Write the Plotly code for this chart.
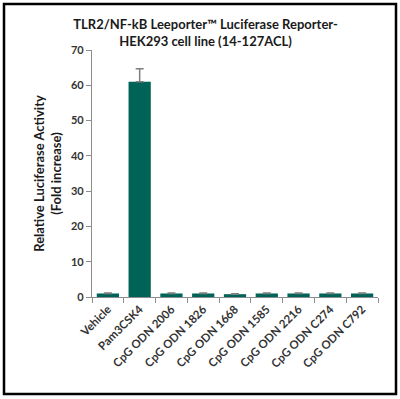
import plotly.graph_objects as go

categories = ["Vehicle", "Pam3CSK4", "CpG ODN 2006", "CpG ODN 1826", "CpG ODN 1668",
              "CpG ODN 1585", "CpG ODN 2216", "CpG ODN C274", "CpG ODN C792"]
values = [1.0, 61.0, 1.0, 1.0, 0.8, 1.0, 1.0, 1.0, 1.0]
errors = [0.1, 3.7, 0.1, 0.1, 0.1, 0.1, 0.1, 0.1, 0.1]
y_ticks = [0, 10, 20, 30, 40, 50, 60, 70]

W, H = 400, 399
ml, mr, mt, mb = 92, 22, 50, 102
pw, ph = W - ml - mr, H - mt - mb

font_fam = "Lato, 'Open Sans', sans-serif"

fig = go.Figure(go.Bar(
    x=categories, y=values,
    marker=dict(color="#006358", line=dict(width=0)),
    error_y=dict(type="data", array=errors, arrayminus=[0] * len(errors), symmetric=False,
                 visible=True, color="#7f7f7f", thickness=1.5, width=4),
    width=0.7,
))

def px_x(p):
    return (p - ml) / pw

def px_y(p):
    return (H - mb - p) / ph

fig.update_layout(
    width=W, height=H,
    margin=dict(l=ml, r=mr, t=mt, b=mb),
    paper_bgcolor="white", plot_bgcolor="white",
    showlegend=False,
    title=dict(
        text="<b>TLR2/NF-kB Leeporter™ Luciferase Reporter-<br>HEK293 cell line (14-127ACL)</b>",
        x=px_x(239), xanchor="center", y=1 - 29 / H, yanchor="middle",
        font=dict(family=font_fam, size=13, color="#1a1a1a"),
    ),
    font=dict(family=font_fam),
    shapes=[dict(type="rect", xref="paper", yref="paper",
                 x0=px_x(4), x1=px_x(396), y0=px_y(394), y1=px_y(4),
                 line=dict(color="black", width=2.5), fillcolor="rgba(0,0,0,0)")],
)

fig.update_yaxes(
    range=[0, 70], tickvals=y_ticks,
    showline=True, linecolor="#8c8c8c", linewidth=1.2,
    ticks="outside", ticklen=5, tickcolor="#8c8c8c",
    showgrid=False, zeroline=False,
    tickfont=dict(family=font_fam, size=11, color="#333333", weight="bold"),
    title=dict(text="<b>Relative Luciferase Activity<br>(Fold increase)</b>",
               font=dict(family=font_fam, size=13, color="#1a1a1a"), standoff=6),
)
fig.update_xaxes(
    showline=True, linecolor="#8c8c8c", linewidth=1.2,
    ticks="outside", ticklen=5, tickcolor="#8c8c8c", tickson="boundaries",
    showgrid=False, tickangle=-45,
    tickfont=dict(family=font_fam, size=11.5, color="#333333", weight="bold"),
)

fig.write_html("out.html")
